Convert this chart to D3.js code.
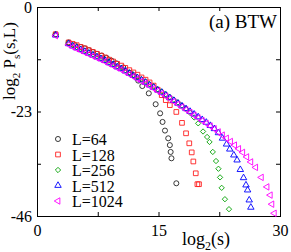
<!DOCTYPE html>
<html>
<head>
<meta charset="utf-8">
<script src="https://cdn.jsdelivr.net/npm/d3@7"></script>
<style>
body { margin: 0; background: #fff; }
svg { display: block; }
text { font-family: "Liberation Serif", "Times New Roman", serif; }
</style>
</head>
<body>
<div id="chart"></div>
<script>
// log2(s) and log2 P_s(s,L) for each system size L
var logS64  = [2.3, 3.9, 4.7, 5.4, 5.9, 6.4, 6.9, 7.4, 8.0, 8.6, 9.2, 9.8, 10.65, 11.5, 12.0, 12.5, 13.0, 13.8, 14.65, 15.2, 15.5, 15.8, 16.2, 16.4, 16.5, 16.6, 17.2];
var logP64  = [-6.0, -7.8, -8.4, -8.8, -9.1, -9.5, -9.9, -10.3, -10.7, -11.2, -11.8, -12.4, -13.3, -14.5, -15.2, -16.2, -17.4, -19.0, -21.4, -23.4, -25.3, -27.2, -28.9, -30.4, -31.9, -33.3, -38.8];

var logS128 = [2.3, 3.9, 4.4, 4.9, 5.4, 5.9, 6.4, 6.9, 7.4, 7.9, 8.4, 8.9, 9.4, 9.9, 10.4, 10.9, 11.4, 11.9, 12.4, 12.9, 13.4, 13.9, 14.4, 14.9, 15.4, 15.9, 16.4, 17.2, 17.9, 18.4, 18.8, 19.1, 19.3, 19.6, 19.8, 20.0];
var logP128 = [-6.0, -7.8, -8.1, -8.4, -8.8, -9.1, -9.5, -9.9, -10.3, -10.7, -11.1, -11.6, -12.0, -12.5, -12.9, -13.4, -13.9, -14.4, -14.9, -15.5, -16.0, -16.6, -17.3, -18.2, -19.4, -20.5, -21.6, -23.1, -25.5, -27.8, -30.0, -32.0, -34.0, -36.6, -39.0, -39.0];

var logS256 = [2.3, 3.9, 4.4, 4.9, 5.4, 5.9, 6.4, 6.9, 7.4, 7.9, 8.4, 8.9, 9.4, 9.9, 10.4, 10.9, 11.4, 11.9, 12.4, 12.9, 13.4, 13.9, 14.4, 14.9, 15.4, 15.9, 16.4, 16.9, 17.4, 17.9, 18.4, 18.9, 19.4, 19.9, 20.5, 21.0, 21.3, 21.7, 22.1, 22.4, 22.6, 22.8, 23.2, 23.7];
var logP256 = [-6.1, -8.0, -8.4, -8.8, -9.2, -9.6, -10.0, -10.4, -10.8, -11.2, -11.6, -12.1, -12.5, -13.0, -13.4, -13.9, -14.4, -14.9, -15.4, -15.9, -16.4, -17.0, -17.5, -18.1, -18.6, -19.2, -19.8, -20.4, -21.0, -21.7, -22.4, -23.3, -24.3, -25.6, -27.4, -28.6, -29.7, -31.9, -33.9, -35.6, -37.5, -39.8, -42.3, -44.5];

var logS512 = [2.3, 3.9, 4.4, 4.9, 5.4, 5.9, 6.4, 6.9, 7.4, 7.9, 8.4, 8.9, 9.4, 9.9, 10.4, 10.9, 11.4, 11.9, 12.4, 12.9, 13.4, 13.9, 14.4, 14.9, 15.4, 15.9, 16.4, 16.9, 17.4, 17.9, 18.4, 18.9, 19.4, 19.9, 20.4, 20.9, 21.4, 21.9, 22.4, 22.9, 23.4, 23.8, 24.3, 24.7, 25.1, 25.5, 25.8, 26.0, 26.2, 26.4];
var logP512 = [-6.2, -8.1, -8.6, -9.0, -9.4, -9.8, -10.2, -10.6, -11.0, -11.4, -11.8, -12.3, -12.7, -13.2, -13.6, -14.1, -14.6, -15.1, -15.6, -16.1, -16.6, -17.2, -17.7, -18.3, -18.8, -19.4, -20.0, -20.6, -21.2, -21.8, -22.4, -23.0, -23.6, -24.2, -24.8, -25.4, -26.1, -26.8, -27.7, -28.9, -30.2, -31.3, -32.6, -33.7, -35.8, -37.6, -39.2, -40.3, -42.5, -44.1];

var logS1024 = [2.3, 3.9, 4.4, 4.9, 5.4, 5.9, 6.4, 6.9, 7.4, 7.9, 8.4, 8.9, 9.4, 9.9, 10.4, 10.9, 11.4, 11.9, 12.4, 12.9, 13.4, 13.9, 14.4, 14.9, 15.4, 15.9, 16.4, 16.9, 17.4, 17.9, 18.4, 18.9, 19.4, 19.9, 20.4, 20.9, 21.4, 21.9, 22.4, 22.9, 23.4, 23.9, 24.4, 24.9, 25.4, 25.9, 26.4, 27.0, 27.7, 28.4, 28.8, 29.0, 29.3];
var logP1024 = [-6.3, -8.3, -8.8, -9.2, -9.6, -10.0, -10.4, -10.8, -11.2, -11.6, -12.0, -12.5, -12.9, -13.4, -13.8, -14.3, -14.8, -15.3, -15.8, -16.3, -16.8, -17.4, -17.9, -18.5, -19.0, -19.6, -20.2, -20.8, -21.4, -22.0, -22.6, -23.2, -23.8, -24.4, -25.0, -25.6, -26.2, -26.8, -27.5, -28.2, -28.9, -29.6, -30.4, -31.2, -32.0, -33.0, -34.1, -35.3, -37.5, -39.6, -41.4, -43.4, -45.4];

var sizes = [64, 128, 256, 512, 1024];
var xTicks = [0, 7.5, 15, 22.5, 30];
var yTicks = [0, -11.5, -23, -34.5, -46];

var series = [
  {L: 64,   xs: logS64,   ys: logP64,   color: "#222",    shape: d3.symbolCircle,   size: 20, rot: 0},
  {L: 128,  xs: logS128,  ys: logP128,  color: "#ff2020", shape: d3.symbolSquare,   size: 22, rot: 0},
  {L: 256,  xs: logS256,  ys: logP256,  color: "#00a000", shape: d3.symbolDiamond2, size: 18, rot: 0},
  {L: 512,  xs: logS512,  ys: logP512,  color: "#0000ff", shape: d3.symbolTriangle, size: 18, rot: 0},
  {L: 1024, xs: logS1024, ys: logP1024, color: "#ff00ff", shape: d3.symbolTriangle, size: 18, rot: -90}
];

var width = 291, height = 252;
var margin = {top: 7, right: 11, bottom: 36, left: 37};
var chartWidth = width - margin.left - margin.right;
var chartHeight = height - margin.top - margin.bottom;

var svg = d3.select("#chart").append("svg")
    .attr("width", width)
    .attr("height", height)
  .append("g")
    .attr("transform", `translate(${margin.left}, ${margin.top})`);

var xScale = d3.scaleLinear().domain([0, 30]).range([0, chartWidth]);
var yScale = d3.scaleLinear().domain([-46, 0]).range([chartHeight, 0]);

var xAxis = d3.axisBottom(xScale)
    .tickValues(xTicks)
    .tickSize(-4)
    .tickSizeOuter(0)
    .tickPadding(9)
    .tickFormat(d => d % 15 === 0 ? String(d) : "");
var yAxis = d3.axisLeft(yScale)
    .tickValues(yTicks)
    .tickSize(-4)
    .tickSizeOuter(0)
    .tickPadding(5)
    .tickFormat(d => d % 23 === 0 ? String(d) : "");

svg.append("g")
    .attr("class", "x axis")
    .attr("transform", `translate(0,${chartHeight})`)
    .call(xAxis);
svg.append("g")
    .attr("class", "y axis")
    .call(yAxis);
svg.append("g")
    .call(d3.axisTop(xScale).tickValues(xTicks).tickSize(-4).tickSizeOuter(0).tickFormat(""));
svg.append("g")
    .attr("transform", `translate(${chartWidth},0)`)
    .call(d3.axisRight(yScale).tickValues(yTicks).tickSize(-4).tickSizeOuter(0).tickFormat(""));

svg.selectAll(".axis text")
    .style("font-size", "16px")
    .style("font-family", "'Liberation Serif', serif")
    .attr("fill", "#000");
svg.selectAll(".domain").remove();
svg.selectAll(".tick line").attr("stroke", "#000");

// frame
svg.append("rect")
    .attr("x", 0.5).attr("y", 0.5)
    .attr("width", chartWidth).attr("height", chartHeight)
    .attr("fill", "none")
    .attr("stroke", "#000")
    .attr("stroke-width", 1);

// data points
series.forEach(function(s) {
  var pts = s.xs.map((x, i) => [x, s.ys[i]]);
  svg.append("g")
    .selectAll("path")
    .data(pts)
    .enter()
    .append("path")
    .attr("d", d3.symbol().type(s.shape).size(s.size))
    .attr("transform", d => `translate(${xScale(d[0])},${yScale(d[1])}) rotate(${s.rot})`)
    .attr("fill", "none")
    .attr("stroke", s.color)
    .attr("stroke-width", 0.9);
});

// legend
var legend = svg.append("g").attr("transform", "translate(21, 132)");
series.forEach(function(s, i) {
  var g = legend.append("g").attr("transform", `translate(0, ${i * 15.5})`);
  g.append("path")
    .attr("d", d3.symbol().type(s.shape).size(s.size))
    .attr("transform", `rotate(${s.rot})`)
    .attr("fill", "none")
    .attr("stroke", s.color)
    .attr("stroke-width", 0.9);
  g.append("text")
    .attr("x", 14)
    .attr("y", 6)
    .style("font-size", "16px")
    .text("L=" + s.L);
});

// title
svg.append("text")
    .attr("x", chartWidth - 3)
    .attr("y", 21)
    .attr("text-anchor", "end")
    .style("font-size", "19px")
    .text("(a) BTW");

// axis labels
var xl = svg.append("text")
    .attr("x", 145)
    .attr("y", 238)
    .style("font-size", "18px");
xl.append("tspan").text("log");
xl.append("tspan").attr("dy", 5).style("font-size", "12px").text("2");
xl.append("tspan").attr("dy", -5).text("(s)");

var yl = svg.append("text")
    .attr("transform", `translate(${14.5 - margin.left}, 93) rotate(-90)`)
    .style("font-size", "17px");
yl.append("tspan").text("log");
yl.append("tspan").attr("dy", 5).style("font-size", "11px").text("2");
yl.append("tspan").attr("dy", -5).text(" P");
yl.append("tspan").attr("dy", 5).style("font-size", "11px").text("s");
yl.append("tspan").attr("dy", -5).text("(s,L)");
</script>
</body>
</html>
